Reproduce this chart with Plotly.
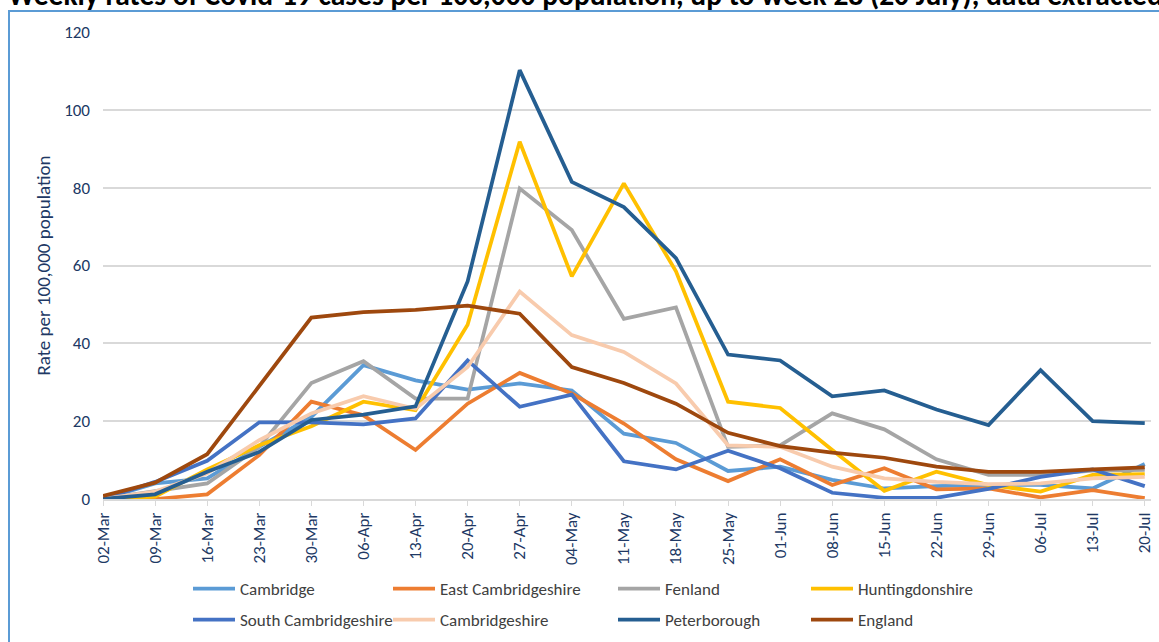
import plotly.graph_objects as go

weeks = ["02-Mar", "09-Mar", "16-Mar", "23-Mar", "30-Mar", "06-Apr", "13-Apr",
         "20-Apr", "27-Apr", "04-May", "11-May", "18-May", "25-May", "01-Jun",
         "08-Jun", "15-Jun", "22-Jun", "29-Jun", "06-Jul", "13-Jul", "20-Jul"]

cambridge = [0, 4.0, 5.3, 13.4, 21.1, 34.4, 30.5, 28.1, 29.7, 27.9, 16.8, 14.4,
             7.2, 8.3, 4.9, 2.7, 3.3, 3.6, 3.6, 2.7, 9.0]
east_cambs = [0, 0, 1.2, 11.3, 25.0, 21.5, 12.6, 24.5, 32.4, 27.1, 19.4, 10.2,
              4.6, 10.2, 3.6, 7.9, 2.5, 2.7, 0.4, 2.3, 0.2]
fenland = [0, 2.0, 4.0, 13.4, 29.8, 35.4, 25.8, 25.8, 79.8, 69.1, 46.3, 49.2,
           13.4, 13.8, 22.0, 17.9, 10.2, 6.2, 6.2, 7.3, 7.5]
huntingdonshire = [0, 0.6, 7.6, 13.8, 18.7, 25.0, 22.8, 44.8, 91.8, 57.2, 81.1,
                   58.5, 25.0, 23.4, 12.6, 2.1, 7.0, 3.6, 1.9, 6.2, 6.4]
south_cambs = [0, 4.4, 9.8, 19.7, 19.7, 19.2, 20.7, 35.6, 23.7, 26.8, 9.7, 7.6,
               12.4, 7.9, 1.6, 0.3, 0.3, 2.6, 5.7, 7.6, 3.3]
cambridgeshire = [0, 1.9, 6.6, 15.1, 22.0, 26.4, 23.2, 33.9, 53.3, 42.1, 37.8,
                  29.7, 13.8, 13.4, 8.3, 5.3, 4.4, 3.8, 4.0, 5.3, 5.7]
peterborough = [0, 1.2, 7.0, 12.1, 20.3, 21.7, 23.8, 55.9, 110.2, 81.5, 75.0,
                61.9, 37.1, 35.6, 26.4, 27.9, 23.0, 19.0, 33.1, 20.0, 19.5]
england = [0.8, 4.2, 11.5, 29.0, 46.6, 48.0, 48.6, 49.7, 47.6, 33.9, 29.8, 24.5,
           17.0, 13.6, 11.9, 10.6, 8.3, 7.0, 7.0, 7.6, 8.1]

series_names = ["Cambridge", "East Cambridgeshire", "Fenland", "Huntingdonshire",
                "South Cambridgeshire", "Cambridgeshire", "Peterborough", "England"]
series_values = [cambridge, east_cambs, fenland, huntingdonshire,
                 south_cambs, cambridgeshire, peterborough, england]

colors = ["#5B9BD5", "#ED7D31", "#A5A5A5", "#FFC000",
          "#4472C4", "#F8CBAD", "#255E91", "#9E480E"]
legend_ids = ["legend"] * 4 + ["legend2"] * 4
col_widths = [143, 168, 136, 150]

FONT = "Carlito, Calibri, 'Liberation Sans Narrow', 'Open Sans', sans-serif"
TXT = "#203864"

fig = go.Figure()
for i, (name, vals) in enumerate(zip(series_names, series_values)):
    fig.add_trace(go.Scatter(
        x=weeks, y=vals, name=name, mode="lines",
        line=dict(color=colors[i], width=3.75),
        legend=legend_ids[i], legendwidth=col_widths[i % 4],
    ))

L, R, T, B = 103, 8, 32, 143
W, H = 1159, 642
pw = W - L - R
ph = H - T - B


def px_x(p):
    return (p - L) / pw


def px_y(p):
    return (H - B - p) / ph


leg_common = dict(orientation="h", xanchor="left", yanchor="top",
                  itemwidth=42,
                  font=dict(size=17, color="#404040", family=FONT),
                  bgcolor="rgba(0,0,0,0)")

fig.update_layout(
    width=W, height=H,
    margin=dict(l=L, r=R, t=T, b=B, autoexpand=False),
    plot_bgcolor="white", paper_bgcolor="white",
    font=dict(family=FONT, color=TXT, size=17),
    xaxis=dict(
        type="category", range=[0, 20.12], automargin=False,
        showgrid=False, showline=True, linecolor="#D9D9D9", linewidth=1.5,
        ticks="outside", ticklen=5, tickcolor="#D9D9D9",
        tickangle=-90, tickfont=dict(size=17, color=TXT, family=FONT),
    ),
    yaxis=dict(
        range=[0, 120], dtick=20, showgrid=True, gridcolor="#D9D9D9",
        gridwidth=1.5, zeroline=False, showline=False, automargin=False,
        ticklabelstandoff=12, tickfont=dict(size=17, color=TXT, family=FONT),
        title=dict(text="Rate per 100,000 population",
                   font=dict(size=19, color=TXT, family=FONT), standoff=8),
    ),
    legend=dict(x=px_x(188), y=px_y(571), **leg_common),
    legend2=dict(x=px_x(188), y=px_y(602), **leg_common),
    showlegend=True,
)

# outer frame of the chart object
fig.add_shape(type="rect", xref="paper", yref="paper",
              x0=px_x(9), x1=px_x(1200), y0=px_y(700), y1=px_y(11),
              line=dict(color="#5B9BD5", width=2), fillcolor="rgba(0,0,0,0)",
              layer="below")

fig.add_annotation(
    text="<b>Weekly rates of Covid-19 cases per 100,000 population, up to week 28 (20 July), data extracted</b>",
    xref="paper", yref="paper", x=px_x(6), y=px_y(15), xanchor="left",
    yanchor="bottom", showarrow=False,
    font=dict(family=FONT, size=29.5, color="black"),
)

fig.write_html(
    "out.html",
    config={"displayModeBar": False},
    post_script="document.body.style.margin='0px';document.body.style.overflow='hidden';",
)
